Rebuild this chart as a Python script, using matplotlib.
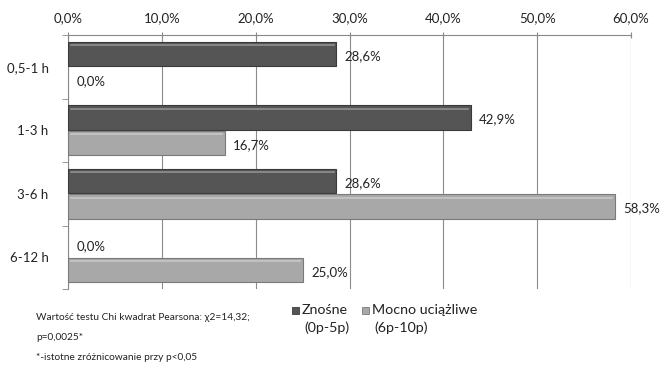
import numpy as np
import matplotlib.pyplot as plt

plt.rcParams['font.family'] = ['Lato', 'DejaVu Sans']

categories = ['0,5-1 h', '1-3 h', '3-6 h', '6-12 h']
znosne = [28.6, 42.9, 28.6, 0.0]
mocno = [0.0, 16.7, 58.3, 25.0]
series_names = [('Znośne', '(0p-5p)'), ('Mocno uciążliwe', '(6p-10p)')]
ticks = [0, 10, 20, 30, 40, 50, 60]

dark = '#555555'
light = '#a8a8a8'
dark_edge = '#3a3a3a'
light_edge = '#7a7a7a'

fig = plt.figure(figsize=(6.65, 3.69), dpi=100)
ax = fig.add_axes([68 / 665, 1 - 289 / 369, (631 - 68) / 665, (289 - 35) / 369])

y = np.arange(len(categories))
h = 0.39

def fmt(v):
    return ('%.1f%%' % v).replace('.', ',')

for vals, off, col, edge in [(znosne, -h / 2 - 0.005, dark, dark_edge),
                             (mocno, h / 2 + 0.005, light, light_edge)]:
    vals = np.array(vals)
    bars = ax.barh(y + off, vals, height=h, color=col, edgecolor=edge,
                   linewidth=0.8, zorder=3)
    for b, v in zip(bars, vals):
        if v > 0:
            # light bevel along the top of each bar
            ax.plot([b.get_x() + 0.3, v - 0.3], [b.get_y() + 0.06] * 2,
                    color='white', alpha=0.35, lw=1.2, zorder=4)
        else:
            b.set_visible(False)
        ax.text(v + 0.9, b.get_y() + h / 2 + 0.03, fmt(v), va='center',
                ha='left', fontsize=9.5, color='#222222', zorder=5)

ax.set_xlim(0, 60)
ax.set_ylim(len(categories) - 0.5, -0.5)
ax.set_xticks(ticks)
ax.set_xticklabels([fmt(t) for t in ticks], fontsize=9.5, color='#222222')
ax.xaxis.tick_top()
ax.tick_params(axis='x', length=4, direction='inout', color='#888888', pad=6)
ax.set_yticks(y)
ax.set_yticklabels(categories, fontsize=9.5, color='#222222')
ax.set_yticks(np.arange(len(categories) + 1) - 0.5, minor=True)
ax.tick_params(axis='y', which='major', length=0, pad=14)
ax.tick_params(axis='y', which='minor', length=4, color='#888888')
ax.grid(axis='x', color='#8c8c8c', lw=0.8, zorder=0)

for s in ['right', 'bottom']:
    ax.spines[s].set_visible(False)
ax.spines['top'].set_color('#888888')
ax.spines['left'].set_color('#888888')

# legend: square marker next to the first line of each two-line entry
W, H = 665, 369
for (l1, l2), x0, col, edge in [(series_names[0], 292, dark, dark_edge),
                                (series_names[1], 362, light, light_edge)]:
    fig.patches.append(plt.Rectangle((x0 / W, 1 - 314 / H), 7 / W, 7 / H,
                                     transform=fig.transFigure, fc=col,
                                     ec=edge, lw=0.6))
    fig.text((x0 + 10) / W, 1 - 310 / H, l1, fontsize=10.3, va='center',
             ha='left', color='#222222')
    fig.text((x0 + 12) / W, 1 - 328 / H, l2, fontsize=10.3, va='center',
             ha='left', color='#222222')

notes = ['Wartość testu Chi kwadrat Pearsona: χ2=14,32;',
         'p=0,0025*',
         '*-istotne zróżnicowanie przy p<0,05']
for i, line in enumerate(notes):
    fig.text(36 / 665, 1 - (317 + 20.5 * i) / 369, line, fontsize=7.3,
             va='center', ha='left', color='#222222')

fig.savefig('out.png', dpi=100)
